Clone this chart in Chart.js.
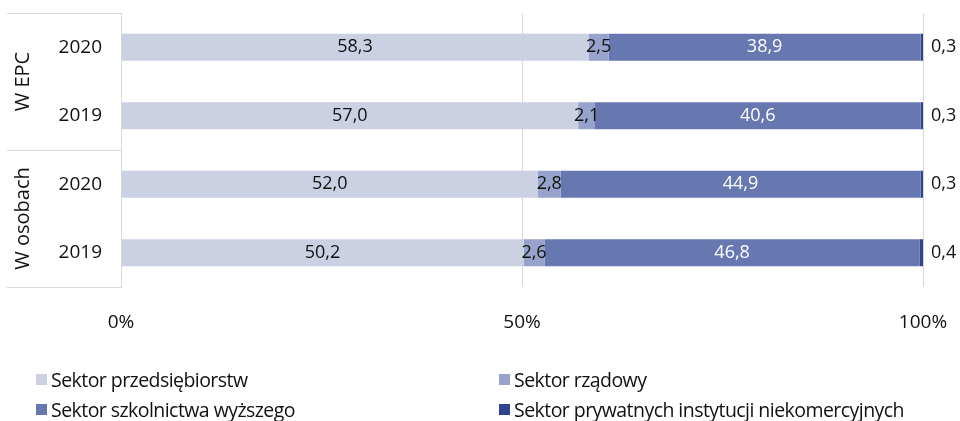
<!DOCTYPE html>
<html lang="pl">
<head>
<meta charset="utf-8">
<script src="https://cdn.jsdelivr.net/npm/chart.js@4.4.1/dist/chart.umd.min.js"></script>
<style>
  html, body { margin: 0; padding: 0; background: #fff; }
  #wrap { position: relative; width: 960px; height: 421px; }
  #legend { position: absolute; left: 36px; top: 366px; width: 900px;
            display: grid; grid-template-columns: 463px 440px; row-gap: 3px;
            font-family: "Open Sans", "Noto Sans", sans-serif; font-size: 19.5px; color: #111; }
  #legend span.item { display: flex; align-items: center; height: 27px; letter-spacing: -0.55px; }
  #legend i { display: inline-block; width: 11px; height: 11px; margin-right: 4px; }
</style>
</head>
<body>
<div id="wrap">
  <canvas id="c" width="960" height="421"></canvas>
  <div id="legend"></div>
</div>
<script>
// dane
const groups = ['W EPC', 'W osobach'];
const years = ['2020', '2019', '2020', '2019'];
const xTicks = ['0%', '50%', '100%'];

const sectorNames = [
  'Sektor przedsiębiorstw',
  'Sektor rządowy',
  'Sektor szkolnictwa wyższego',
  'Sektor prywatnych instytucji niekomercyjnych'
];
const przedsiebiorstw = [58.3, 57.0, 52.0, 50.2];
const rzadowy = [2.5, 2.1, 2.8, 2.6];
const szkolnictwa = [38.9, 40.6, 44.9, 46.8];
const prywatnych = [0.3, 0.3, 0.3, 0.4];

const colors = ['#cbd0e3', '#98a3cb', '#6777af', '#2f4490'];
const labelColors = ['#111', '#111', '#fff', '#111'];
const FONT = '"Open Sans", "Noto Sans", sans-serif';

const fmt = v => v.toFixed(1).replace('.', ',');

// etykiety wartości na słupkach
const valueLabels = {
  id: 'valueLabels',
  afterDatasetsDraw(chart) {
    const ctx = chart.ctx;
    ctx.save();
    ctx.font = '18px ' + FONT;
    ctx.textBaseline = 'middle';
    chart.data.datasets.forEach((ds, di) => {
      const meta = chart.getDatasetMeta(di);
      meta.data.forEach((bar, i) => {
        const v = ds.data[i];
        ctx.fillStyle = labelColors[di];
        if (di === 3) {
          ctx.textAlign = 'left';
          ctx.fillText(fmt(v), bar.x + 8, bar.y);
        } else {
          ctx.textAlign = 'center';
          ctx.fillText(fmt(v), (bar.x + bar.base) / 2, bar.y);
        }
      });
    });
    ctx.restore();
  }
};

// grupy na osi kategorii
const groupAxis = {
  id: 'groupAxis',
  afterDraw(chart) {
    const ctx = chart.ctx;
    const area = chart.chartArea;
    const x0 = 7, x1 = area.left;
    const mid = (area.top + area.bottom) / 2;
    ctx.save();
    ctx.strokeStyle = '#d9d9d9';
    ctx.lineWidth = 1;
    [area.top, mid, area.bottom].forEach(y => {
      ctx.beginPath();
      ctx.moveTo(x0, Math.round(y) + 0.5);
      ctx.lineTo(x1, Math.round(y) + 0.5);
      ctx.stroke();
    });
    ctx.fillStyle = '#111';
    ctx.font = '20px ' + FONT;
    ctx.textAlign = 'center';
    ctx.textBaseline = 'middle';
    const centers = [(area.top + mid) / 2, (mid + area.bottom) / 2];
    groups.forEach((g, i) => {
      ctx.save();
      ctx.translate(23, centers[i]);
      ctx.rotate(-Math.PI / 2);
      ctx.fillText(g, 0, 0);
      ctx.restore();
    });
    ctx.restore();
  }
};

const data = [przedsiebiorstw, rzadowy, szkolnictwa, prywatnych];

new Chart(document.getElementById('c'), {
  type: 'bar',
  data: {
    labels: years,
    datasets: sectorNames.map((name, i) => ({
      label: name,
      data: data[i],
      backgroundColor: colors[i],
      borderWidth: 0,
      barPercentage: 0.8,
      categoryPercentage: 0.493
    }))
  },
  options: {
    indexAxis: 'y',
    responsive: false,
    animation: false,
    layout: { padding: { top: 13, right: 37, bottom: 84, left: 0 } },
    plugins: { legend: { display: false }, tooltip: { enabled: false } },
    scales: {
      x: {
        stacked: true,
        min: 0,
        max: 100,
        border: { display: false },
        grid: { color: '#d9d9d9', drawTicks: false },
        ticks: {
          stepSize: 50,
          padding: 24,
          color: '#111',
          font: { family: FONT, size: 19 },
          callback: (v, i) => xTicks[i]
        },
        afterFit: s => { s.height = 50; s.paddingLeft = 0; s.paddingRight = 0; }
      },
      y: {
        stacked: true,
        border: { display: true, color: '#d9d9d9' },
        grid: { display: false },
        ticks: {
          padding: 11,
          color: '#111',
          font: { family: FONT, size: 19 }
        },
        afterFit: s => { s.width = 121; s.paddingTop = 0; s.paddingBottom = 0; }
      }
    }
  },
  plugins: [valueLabels, groupAxis]
});

// legenda
const legend = document.getElementById('legend');
sectorNames.forEach((name, i) => {
  const item = document.createElement('span');
  item.className = 'item';
  item.innerHTML = '<i style="background:' + colors[i] + '"></i>' + name;
  legend.appendChild(item);
});
</script>
</body>
</html>
